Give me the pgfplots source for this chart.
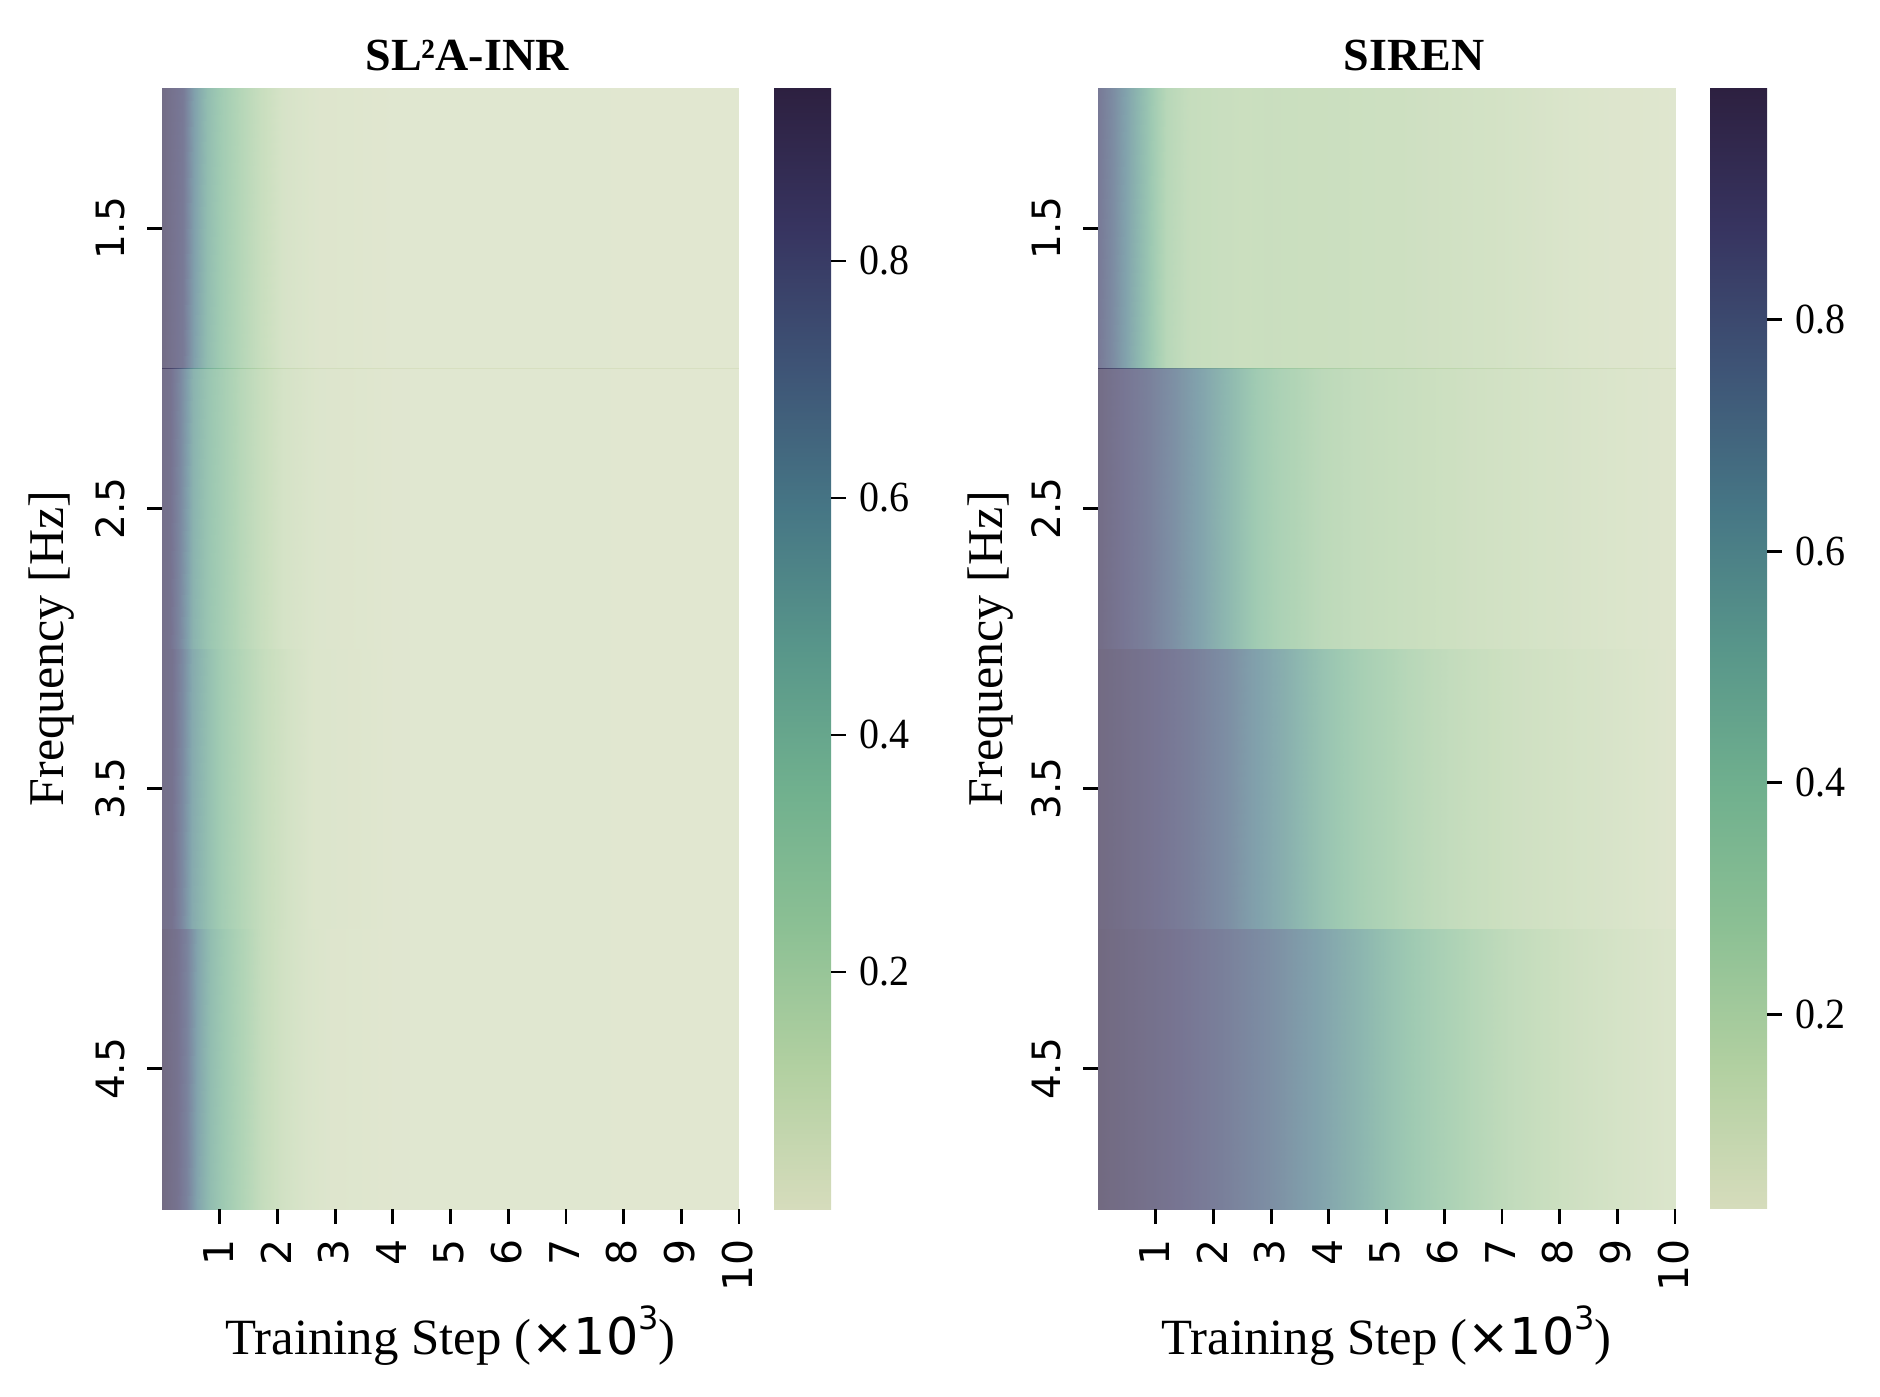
\documentclass[border=0pt]{standalone}
\usepackage{fontspec}
\setmainfont{Liberation Serif}
\newfontfamily\djv{DejaVu Sans}
\usepackage{pgfplots}
\pgfplotsset{compat=1.18}
\pgfplotsset{
  colormap={cb}{rgb255=(214,220,188) rgb255=(178,208,161) rgb255=(140,192,148) rgb255=(112,176,142) rgb255=(88,150,138) rgb255=(70,118,133) rgb255=(62,84,118) rgb255=(55,52,96) rgb255=(45,32,64)},
  heat/.style={
    scale only axis, width=288.5pt, height=560.5pt, anchor=south west,
    view={0}{90}, colormap name=cb,
    xmin=0, xmax=10, ymin=1, ymax=5, y dir=reverse, ztick=\empty,
    axis line style={draw=none},
    tick align=outside, xtick pos=bottom, ytick pos=left,
    major tick length=7.3pt,
    major tick style={black, line width=1.4pt},
    xtick={1,2,3,4,5,6,7,8,9,10},
    xticklabels={1,2,3,4,5,6,7,8,9,10},
    ytick={1.5,2.5,3.5,4.5},
    yticklabels={1.5,2.5,3.5,4.5},
    x tick label style={font=\djv\fontsize{20.5}{20.5}\selectfont, rotate=90, anchor=east, yshift=0.8pt, xshift=-4.3pt},
    y tick label style={font=\djv\fontsize{19.5}{19.5}\selectfont, rotate=90, anchor=south, yshift=7.8pt},
    xlabel={Training Step ({\djv×10\raisebox{0.48em}{\fontsize{16}{16}\selectfont 3}})},
    xlabel style={font=\fontsize{25.4}{25.4}\selectfont, at={(axis description cs:0.5,-0.113)}, anchor=center},
    ylabel={Frequency [Hz]},
    ylabel style={font=\fontsize{25}{25}\selectfont, anchor=center},
    colorbar/width=28.5pt,
    colorbar,
    colorbar style={
      at={(1.0607,0.5)}, anchor=west,
      xmin=0, xmax=1, xtick=\empty,
      axis line style={draw=none},
      ytick pos=right,
      ytick={0.2,0.4,0.6,0.8},
      yticklabels={0.2,0.4,0.6,0.8},
      tick align=outside,
      major tick length=7.3pt,
      major tick style={black, line width=1.4pt},
      y tick label style={font=\fontsize{21.5}{21.5}\selectfont, xscale=0.93, xshift=4pt},
    },
  },
  band/.style={surf, shader=interp, opacity=0.68, mesh/ordering=y varies, mesh/rows=2, point meta=z},
}
\begin{document}
\begin{tikzpicture}
\path[use as bounding box] (0,0) rectangle (940pt,698.5pt);
\begin{axis}[heat, at={(81pt,94pt)},
  point meta min=0, point meta max=0.946,
  title={\textbf{SL²A-INR}},
  title style={font=\fontsize{23}{23}\selectfont, at={(axis description cs:0.529,1)}, anchor=center, yshift=10.5pt},
  ylabel style={at={(axis description cs:-0.191,0.5)}},
]
\addplot3[band] table[row sep=\\, x=x, y=y, z=v]{
x y v\\
0 1 .90\\0 2 .90\\ .37 1 .80\\.37 2 .80\\ .55 1 .60\\.55 2 .60\\ .78 1 .44\\.78 2 .44\\
1.06 1 .32\\1.06 2 .32\\ 1.35 1 .22\\1.35 2 .22\\ 1.7 1 .135\\1.7 2 .135\\ 2.1 1 .062\\2.1 2 .062\\
2.7 1 .028\\2.7 2 .028\\ 4 1 .014\\4 2 .014\\ 7 1 .012\\7 2 .012\\ 10 1 .01\\10 2 .01\\
};
\addplot3[band] table[row sep=\\, x=x, y=y, z=v]{
x y v\\
0 2 .88\\0 3 .88\\ .14 2 .85\\.14 3 .85\\ .31 2 .72\\.31 3 .72\\ .54 2 .50\\.54 3 .50\\
.78 2 .39\\.78 3 .39\\ 1.06 2 .30\\1.06 3 .30\\ 1.35 2 .21\\1.35 3 .21\\ 1.7 2 .135\\1.7 3 .135\\
2.1 2 .07\\2.1 3 .07\\ 2.7 2 .033\\2.7 3 .033\\ 4 2 .015\\4 3 .015\\ 7 2 .012\\7 3 .012\\ 10 2 .01\\10 3 .01\\
};
\addplot3[band] table[row sep=\\, x=x, y=y, z=v]{
x y v\\
0 3 .88\\0 4 .88\\ .17 3 .85\\.17 4 .85\\ .35 3 .72\\.35 4 .72\\ .52 3 .55\\.52 4 .55\\
.8 3 .42\\.8 4 .42\\ 1.04 3 .32\\1.04 4 .32\\ 1.39 3 .22\\1.39 4 .22\\ 1.79 3 .135\\1.79 4 .135\\
2.18 3 .08\\2.18 4 .08\\ 2.6 3 .038\\2.6 4 .038\\ 4 3 .015\\4 4 .015\\ 7 3 .012\\7 4 .012\\ 10 3 .01\\10 4 .01\\
};
\addplot3[band] table[row sep=\\, x=x, y=y, z=v]{
x y v\\
0 4 .92\\0 5 .92\\ .26 4 .85\\.26 5 .85\\ .43 4 .75\\.43 5 .75\\ .61 4 .58\\.61 5 .58\\
.83 4 .44\\.83 5 .44\\ 1.09 4 .34\\1.09 5 .34\\ 1.38 4 .24\\1.38 5 .24\\ 1.73 4 .145\\1.73 5 .145\\
2.08 4 .09\\2.08 5 .09\\ 2.48 4 .05\\2.48 5 .05\\ 2.9 4 .028\\2.9 5 .028\\ 4 4 .015\\4 5 .015\\ 7 4 .012\\7 5 .012\\ 10 4 .01\\10 5 .01\\
};
\end{axis}
\begin{axis}[heat, at={(549pt,94pt)},
  point meta min=0.032, point meta max=1.0,
  title={\textbf{SIREN}},
  title style={font=\fontsize{23}{23}\selectfont, at={(axis description cs:0.548,1)}, anchor=center, yshift=10.5pt},
  ylabel style={at={(axis description cs:-0.187,0.5)}},
]
\addplot3[band] table[row sep=\\, x=x, y=y, z=v]{
x y v\\
0 1 .855\\0 2 .855\\ .25 1 .758\\.25 2 .758\\ .52 1 .613\\.52 2 .613\\ .85 1 .439\\.85 2 .439\\
.98 1 .351\\.98 2 .351\\ 1.18 1 .245\\1.18 2 .245\\ 1.58 1 .177\\1.58 2 .177\\ 2.5 1 .153\\2.5 2 .153\\
3 1 .158\\3 2 .158\\ 5 1 .143\\5 2 .143\\ 7 1 .109\\7 2 .109\\ 8 1 .08\\8 2 .08\\ 9 1 .061\\9 2 .061\\ 10 1 .051\\10 2 .051\\
};
\addplot3[band] table[row sep=\\, x=x, y=y, z=v]{
x y v\\
0 2 .95\\0 3 .95\\ .45 2 .875\\.45 3 .875\\ .85 2 .82\\.85 3 .82\\ 1.31 2 .729\\1.31 3 .729\\
1.84 2 .613\\1.84 3 .613\\ 2.3 2 .497\\2.3 3 .497\\ 2.77 2 .371\\2.77 3 .371\\ 3.17 2 .303\\3.17 3 .303\\
3.83 2 .226\\3.83 3 .226\\ 4.5 2 .187\\4.5 3 .187\\ 5.5 2 .158\\5.5 3 .158\\ 6.5 2 .129\\6.5 3 .129\\
7.8 2 .10\\7.8 3 .10\\ 9.1 2 .071\\9.1 3 .071\\ 10 2 .056\\10 3 .056\\
};
\addplot3[band] table[row sep=\\, x=x, y=y, z=v]{
x y v\\
0 3 .97\\0 4 .97\\ .72 3 .91\\.72 4 .91\\ 1.58 3 .83\\1.58 4 .83\\ 2.24 3 .74\\2.24 4 .74\\
2.64 3 .661\\2.64 4 .661\\ 3.24 3 .564\\3.24 4 .564\\ 3.9 3 .439\\3.9 4 .439\\ 4.5 3 .342\\4.5 4 .342\\
5.35 3 .245\\5.35 4 .245\\ 6.15 3 .187\\6.15 4 .187\\ 7.15 3 .138\\7.15 4 .138\\ 8.5 3 .10\\8.5 4 .10\\
9.8 3 .061\\9.8 4 .061\\ 10 3 .059\\10 4 .059\\
};
\addplot3[band] table[row sep=\\, x=x, y=y, z=v]{
x y v\\
0 4 .98\\0 5 .98\\ 1.18 4 .90\\1.18 5 .90\\ 2.17 4 .82\\2.17 5 .82\\ 2.97 4 .74\\2.97 5 .74\\
3.83 4 .632\\3.83 5 .632\\ 4.5 4 .535\\4.5 5 .535\\ 5.1 4 .439\\5.1 5 .439\\ 5.7 4 .351\\5.7 5 .351\\
6.5 4 .255\\6.5 5 .255\\ 7.15 4 .197\\7.15 5 .197\\ 8.15 4 .138\\8.15 5 .138\\ 9.1 4 .10\\9.1 5 .10\\ 10 4 .071\\10 5 .071\\
};
\end{axis}
\end{tikzpicture}
\end{document}
